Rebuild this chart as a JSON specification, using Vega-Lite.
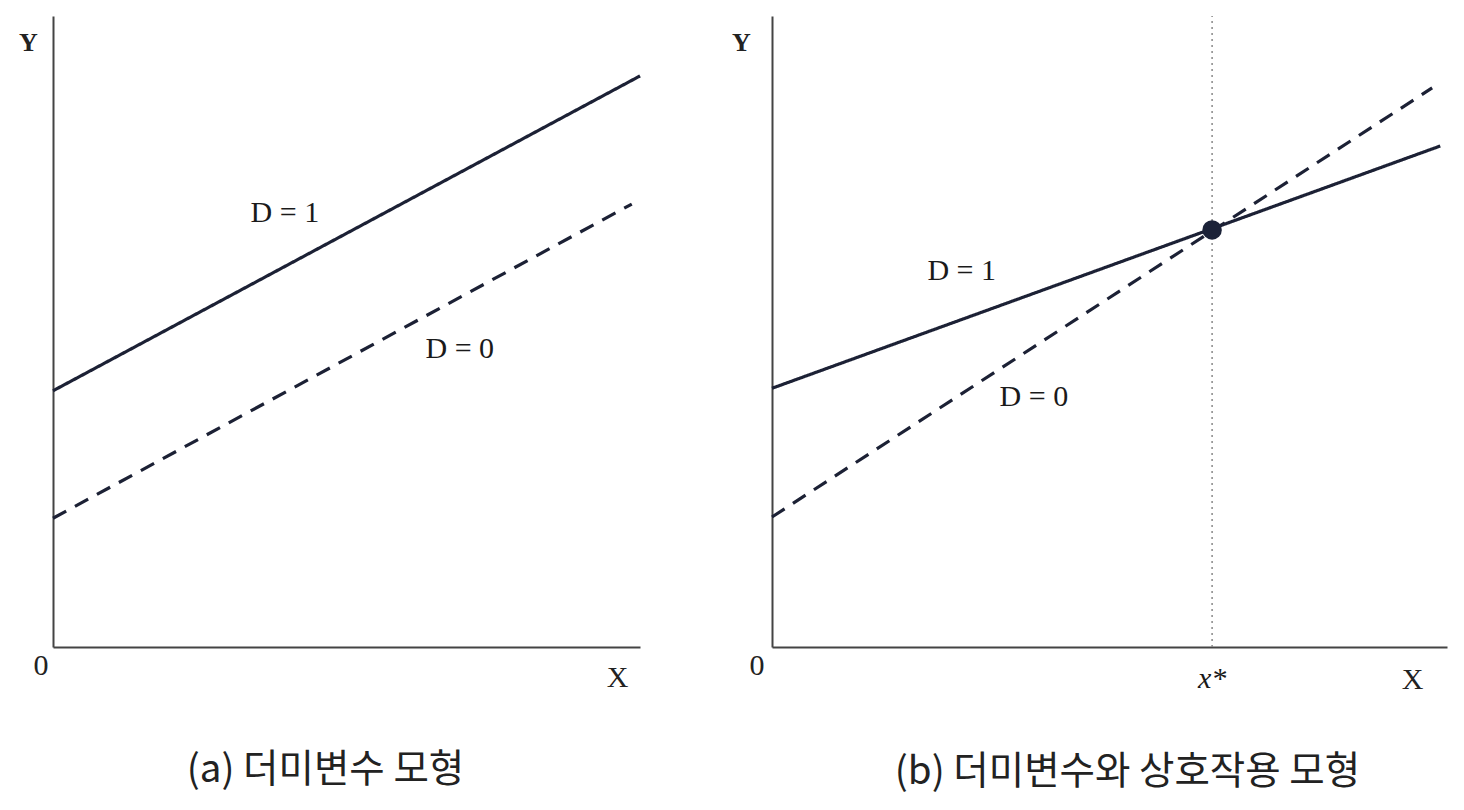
{
  "$schema": "https://vega.github.io/schema/vega-lite/v6.json",
  "background": "white",
  "padding": {"left": 18, "top": 15, "right": 5, "bottom": 5},
  "spacing": 84,
  "config": {"view": {"stroke": null}, "font": "Liberation Serif"},
  "datasets": {
    "linesA": [
      {"series": "D = 1", "x": 0, "y": 4.06},
      {"series": "D = 1", "x": 10, "y": 9.05},
      {"series": "D = 0", "x": 0, "y": 2.04},
      {"series": "D = 0", "x": 9.86, "y": 7.02}
    ],
    "labelsA": [
      {"label": "D = 1", "x": 3.95, "y": 6.88},
      {"label": "D = 0", "x": 6.93, "y": 4.72}
    ],
    "linesB": [
      {"series": "D = 1", "x": 0, "y": 4.1},
      {"series": "D = 1", "x": 9.9, "y": 7.94},
      {"series": "D = 0", "x": 0, "y": 2.06},
      {"series": "D = 0", "x": 9.78, "y": 8.86}
    ],
    "labelsB": [
      {"label": "D = 1", "x": 2.81, "y": 5.96},
      {"label": "D = 0", "x": 3.88, "y": 3.96}
    ],
    "xstarB": [
      {"label": "x*", "x": 6.52, "y": -0.5}
    ],
    "ruleB": [
      {"x": 6.52, "y": 0, "y2": 10}
    ],
    "pointB": [
      {"x": 6.52, "y": 6.61}
    ]
  },
  "hconcat": [
    {
      "width": 587,
      "height": 631,
      "title": {"text": "(a) 더미변수 모형", "orient": "bottom", "anchor": "middle", "frame": "group", "dx": -21, "offset": 60, "font": "Noto Sans CJK KR", "fontSize": 38.5, "fontWeight": "normal", "color": "#222"},
      "encoding": {
        "x": {"field": "x", "type": "quantitative", "scale": {"domain": [0, 10], "nice": false, "zero": false},
          "axis": {"title": "X", "values": [0], "labelExpr": "'0'", "grid": false, "ticks": false, "domainColor": "#444", "domainWidth": 2,
            "labelFont": "Liberation Serif", "labelFontSize": 30, "labelColor": "#222", "labelAlign": "right", "labelBaseline": "middle", "labelPadding": 18, "labelOffset": -5, "labelFlush": false,
            "titleFont": "Liberation Serif", "titleFontSize": 30, "titleFontWeight": "normal", "titleColor": "#222", "titleX": 564, "titleY": 30, "titleAlign": "center", "titleBaseline": "middle"}},
        "y": {"field": "y", "type": "quantitative", "scale": {"domain": [0, 10], "nice": false, "zero": false},
          "axis": {"title": "Y", "labels": false, "ticks": false, "grid": false, "domainColor": "#444", "domainWidth": 2,
            "titleAngle": 0, "titleX": -25, "titleY": 26, "titleAlign": "center", "titleBaseline": "middle",
            "titleFont": "Liberation Serif", "titleFontSize": 26, "titleFontWeight": "bold", "titleColor": "#222"}}
      },
      "layer": [
        {
          "data": {"name": "linesA"},
          "mark": {"type": "line", "color": "#1c2135", "strokeWidth": 3.2},
          "encoding": {
            "detail": {"field": "series"},
            "strokeDash": {"field": "series", "type": "nominal", "scale": {"domain": ["D = 1", "D = 0"], "range": [[1, 0], [15, 10]]}, "legend": null}
          }
        },
        {
          "data": {"name": "labelsA"},
          "mark": {"type": "text", "font": "Liberation Serif", "fontSize": 30, "color": "#1a1a1a"},
          "encoding": {"text": {"field": "label"}}
        }
      ]
    },
    {
      "width": 675,
      "height": 631,
      "title": {"text": "(b) 더미변수와 상호작용 모형", "orient": "bottom", "anchor": "middle", "frame": "group", "dx": 18, "offset": 60, "font": "Noto Sans CJK KR", "fontSize": 38.5, "fontWeight": "normal", "color": "#222"},
      "encoding": {
        "x": {"field": "x", "type": "quantitative", "scale": {"domain": [0, 10], "nice": false, "zero": false},
          "axis": {"title": "X", "values": [0], "labelExpr": "'0'", "grid": false, "ticks": false, "domainColor": "#444", "domainWidth": 2,
            "labelFont": "Liberation Serif", "labelFontSize": 30, "labelColor": "#222", "labelAlign": "right", "labelBaseline": "middle", "labelPadding": 18, "labelOffset": -8, "labelFlush": false,
            "titleFont": "Liberation Serif", "titleFontSize": 30, "titleFontWeight": "normal", "titleColor": "#222", "titleX": 640, "titleY": 32, "titleAlign": "center", "titleBaseline": "middle"}},
        "y": {"field": "y", "type": "quantitative", "scale": {"domain": [0, 10], "nice": false, "zero": false},
          "axis": {"title": "Y", "labels": false, "ticks": false, "grid": false, "domainColor": "#444", "domainWidth": 2,
            "titleAngle": 0, "titleX": -31, "titleY": 26, "titleAlign": "center", "titleBaseline": "middle",
            "titleFont": "Liberation Serif", "titleFontSize": 26, "titleFontWeight": "bold", "titleColor": "#222"}}
      },
      "layer": [
        {
          "data": {"name": "ruleB"},
          "mark": {"type": "rule", "color": "#888", "strokeWidth": 1.5, "strokeDash": [2, 4]},
          "encoding": {"y2": {"field": "y2"}}
        },
        {
          "data": {"name": "linesB"},
          "mark": {"type": "line", "color": "#1c2135", "strokeWidth": 3.2},
          "encoding": {
            "detail": {"field": "series"},
            "strokeDash": {"field": "series", "type": "nominal", "scale": {"domain": ["D = 1", "D = 0"], "range": [[1, 0], [15, 10]]}, "legend": null}
          }
        },
        {
          "data": {"name": "pointB"},
          "mark": {"type": "point", "filled": true, "color": "#1b2238", "opacity": 1, "size": 380}
        },
        {
          "data": {"name": "labelsB"},
          "mark": {"type": "text", "font": "Liberation Serif", "fontSize": 30, "color": "#1a1a1a"},
          "encoding": {"text": {"field": "label"}}
        },
        {
          "data": {"name": "xstarB"},
          "mark": {"type": "text", "font": "Liberation Serif", "fontSize": 30, "fontStyle": "italic", "color": "#1a1a1a"},
          "encoding": {"text": {"field": "label"}}
        }
      ]
    }
  ]
}
